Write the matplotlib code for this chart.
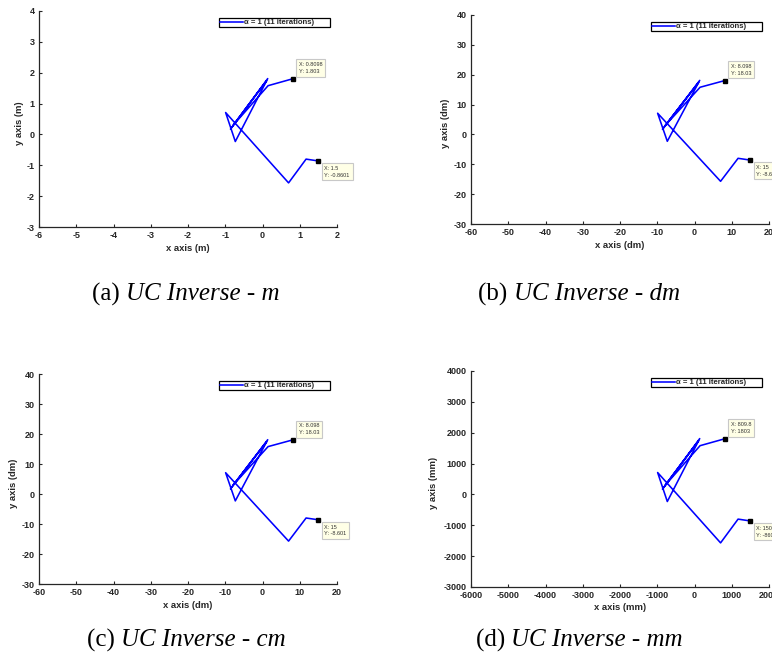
import matplotlib
matplotlib.use("Agg")
import matplotlib.pyplot as plt

W, H, DPI = 772, 671, 100

# Trajectory of the inverse solution, in metres
track_x = [1.5, 1.17, 0.70, -0.99, -0.73, 0.14, -0.86, 0.11, -0.80, 0.15, 0.8098]
track_y = [-0.8601, -0.80, -1.57, 0.71, -0.23, 1.81, 0.17, 1.74, 0.28, 1.58, 1.803]

# Panels: unit scale factor, axis-label unit, caption
panel_scale = [1, 10, 10, 1000]
label_units = ["m", "dm", "dm", "mm"]
caption_tags = ["(a)", "(b)", "(c)", "(d)"]
caption_texts = ["UC Inverse - m", "UC Inverse - dm", "UC Inverse - cm", "UC Inverse - mm"]
x_range_m = (-6, 2)
y_range_m = (-3, 4)
legend_label = "\u03b1 = 1 (11 iterations)"

# Axes rectangles in pixels: left, top, right, bottom
boxes = [(39, 11, 337, 227), (471, 15, 769, 224), (39, 374, 337, 584), (471, 371, 769, 587)]
ylabel_x_px = [20, 446, 14, 434]
caption_pos = [(186, 294), (579, 294), (186, 640), (579, 640)]

DARK = "#262626"
plt.rcParams["font.family"] = ["Liberation Sans", "DejaVu Sans"]

fig = plt.figure(figsize=(W / DPI, H / DPI), dpi=DPI)


def fmt(v):
    return "%.4g" % v


for i, (l, t, r, b) in enumerate(boxes):
    s = panel_scale[i]
    wid = r - l
    hgt = b - t
    ax = fig.add_axes([l / W, 1 - b / H, wid / W, hgt / H])
    xs = [v * s for v in track_x]
    ys = [v * s for v in track_y]
    ax.plot(xs, ys, color=(0, 0, 1), lw=1.15, label=legend_label, zorder=3)

    ax.set_xlim(x_range_m[0] * s, x_range_m[1] * s)
    ax.set_ylim(y_range_m[0] * s, y_range_m[1] * s)
    ax.set_xticks([k * s for k in range(x_range_m[0], x_range_m[1] + 1)])
    ax.set_yticks([k * s for k in range(y_range_m[0], y_range_m[1] + 1)])
    ax.xaxis.set_major_formatter(plt.FuncFormatter(lambda v, p: fmt(v)))
    ax.yaxis.set_major_formatter(plt.FuncFormatter(lambda v, p: fmt(v)))

    for side in ("top", "right"):
        ax.spines[side].set_visible(False)
    for side in ("left", "bottom"):
        ax.spines[side].set_color(DARK)
        ax.spines[side].set_linewidth(0.9)
    ax.tick_params(direction="in", length=2.5, width=0.8, color=DARK,
                   labelsize=6.5, labelcolor=DARK, pad=3.2)
    for lab in ax.get_xticklabels() + ax.get_yticklabels():
        lab.set_fontweight("bold")

    u = label_units[i]
    ax.set_xlabel("x axis (%s)" % u, fontsize=6.8, fontweight="bold", color=DARK)
    ax.set_ylabel("y axis (%s)" % u, fontsize=6.8, fontweight="bold", color=DARK)
    ax.xaxis.set_label_coords(0.5, -21 / hgt)
    ax.xaxis.label.set_va("center")
    ax.yaxis.set_label_coords((ylabel_x_px[i] - l) / wid, 0.48)
    ax.yaxis.label.set_va("center")

    # legend frame stretched to a fixed box near the top right
    lx0 = (218.5 - 39) / 298
    lw_ = 111.5 / 298
    lh = 11.5 / hgt
    ltop = 1 - 6.7 / hgt
    leg = ax.legend(loc="upper left", bbox_to_anchor=(lx0, ltop - lh, lw_, lh),
                    mode="expand", borderaxespad=0, fancybox=False, framealpha=1,
                    edgecolor="black", handlelength=3.0, handletextpad=0.1,
                    borderpad=0.15, prop={"size": 5.6, "weight": "bold"})
    leg.get_frame().set_linewidth(0.9)
    for txt in leg.get_texts():
        txt.set_color(DARK)

    # data tips on the final and first points
    for idx, dy, va in ((len(xs) - 1, 5, "bottom"), (0, -5, "top")):
        ax.plot([xs[idx]], [ys[idx]], marker="s", ms=3.2, color="black",
                mec="black", zorder=5, clip_on=False)
        ax.annotate("X: %s\nY: %s" % (fmt(xs[idx]), fmt(ys[idx])),
                    xy=(xs[idx], ys[idx]), xytext=(6, dy),
                    textcoords="offset pixels", ha="left", va=va,
                    fontsize=4, color="#333333", linespacing=1.4,
                    annotation_clip=False, zorder=6,
                    bbox=dict(boxstyle="square,pad=0.5", fc="#FFFFE6",
                              ec="#C8C8C8", lw=0.8))

# captions: upright tag followed by italic title, centred as one line
fig.canvas.draw()
renderer = fig.canvas.get_renderer()
for (cx, cy), tag, title in zip(caption_pos, caption_tags, caption_texts):
    t1 = fig.text(0, 1 - cy / H, tag + " ", fontsize=18, family="Liberation Serif",
                  va="center", ha="left", color="black")
    t2 = fig.text(0, 1 - cy / H, title, fontsize=18, family="Liberation Serif",
                  style="italic", va="center", ha="left", color="black")
    w1 = t1.get_window_extent(renderer).width
    w2 = t2.get_window_extent(renderer).width
    x0 = cx - (w1 + w2) / 2
    t1.set_x(x0 / W)
    t2.set_x((x0 + w1) / W)

fig.savefig("out.png", dpi=DPI)
